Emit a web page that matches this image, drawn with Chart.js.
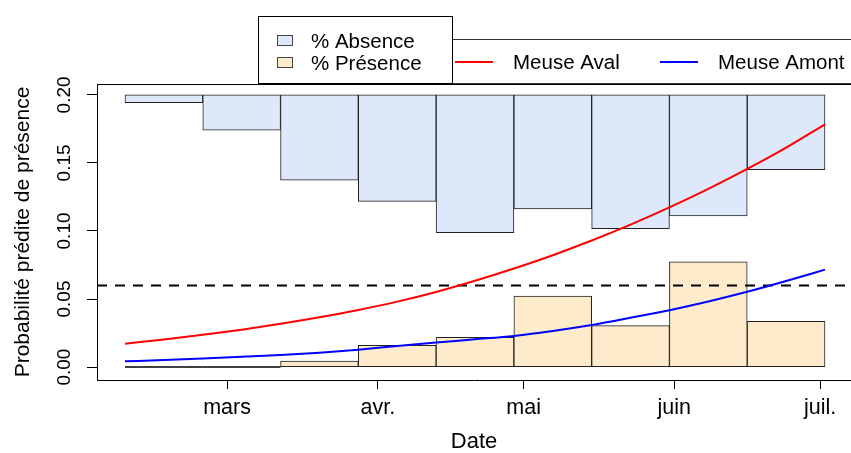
<!DOCTYPE html>
<html>
<head>
<meta charset="utf-8">
<script src="https://cdn.jsdelivr.net/npm/chart.js@4.4.1/dist/chart.umd.min.js"></script>
<style>
  html, body { margin: 0; padding: 0; background: #fff; }
  #wrap { width: 851px; height: 453px; }
</style>
</head>
<body>
<div id="wrap"><canvas id="chart" width="851" height="453"></canvas></div>
<script>
// jours depuis le 1er janvier
const binEdges = [38, 54, 70, 86, 102, 118, 134, 150, 166, 182];
const absenceTop = 0.2;
const absenceLow = [0.1943, 0.174, 0.1373, 0.1218, 0.0988, 0.1162, 0.1017, 0.111, 0.1451];
const presence = [0, 0, 0.0044, 0.016, 0.0218, 0.0522, 0.0304, 0.0774, 0.0336];

const curveDays = [38, 46, 54, 62, 70, 78, 86, 94, 102, 110, 118, 126, 134, 142, 150, 158, 166, 174, 182];
const meuseAval = [0.0172, 0.0203, 0.0237, 0.0275, 0.0318, 0.0366, 0.042, 0.0481, 0.0552, 0.0634, 0.0724, 0.0822, 0.093, 0.1047, 0.1173, 0.1309, 0.1456, 0.1613, 0.1784];
const meuseAmont = [0.0042, 0.0052, 0.0063, 0.0075, 0.0089, 0.0106, 0.0128, 0.0155, 0.018, 0.0204, 0.0229, 0.0265, 0.0309, 0.0362, 0.0418, 0.0482, 0.0553, 0.0632, 0.0716];

const seuil = 0.06;
const monthDays = [59, 90, 120, 151, 181];
const monthLabels = ['mars', 'avr.', 'mai', 'juin', 'juil.'];
const yTicks = [0, 0.05, 0.10, 0.15, 0.20];

const xMin = 32.24, xMax = 187.35;
const yMin = -0.0095, yMax = 0.208;

const centers = binEdges.slice(0, -1).map((e, i) => (e + binEdges[i + 1]) / 2);

Chart.defaults.font.family = "'Liberation Sans', Arial, sans-serif";
Chart.defaults.color = '#000';

// rectangles de hauteur nulle : R trace quand meme le contour
const zeroBars = {
  id: 'zeroBars',
  afterDatasetDraw(chart, args) {
    const ds = chart.data.datasets[args.index];
    if (ds.label !== '% Présence') return;
    const ctx = chart.ctx;
    ctx.save();
    ctx.strokeStyle = '#000';
    ctx.lineWidth = 1.5;
    args.meta.data.forEach((el, i) => {
      if (presence[i] !== 0) return;
      ctx.beginPath();
      ctx.moveTo(el.x - el.width / 2, el.y);
      ctx.lineTo(el.x + el.width / 2, el.y);
      ctx.stroke();
    });
    ctx.restore();
  }
};

const boxAndLegend = {
  id: 'boxAndLegend',
  afterDraw(chart) {
    const ctx = chart.ctx;
    const a = chart.chartArea;
    const ds = chart.data.datasets;
    ctx.save();
    ctx.strokeStyle = '#000';
    ctx.lineWidth = 1;
    ctx.beginPath();
    ctx.moveTo(a.left, a.top + 0.5);
    ctx.lineTo(a.right, a.top + 0.5);
    ctx.stroke();

    // legende des courbes
    ctx.fillStyle = '#fff';
    ctx.fillRect(452, 39, 410, 44);
    ctx.strokeStyle = '#333';
    ctx.strokeRect(452.5, 39.5, 410, 44);
    // legende des barres
    ctx.fillRect(258, 16, 194, 67);
    ctx.strokeStyle = '#000';
    ctx.strokeRect(258.5, 16.5, 194, 67);

    ctx.font = "20.5px 'Liberation Sans', Arial, sans-serif";
    ctx.textBaseline = 'middle';
    ctx.textAlign = 'left';

    const bars = ds.filter(d => d.type === 'bar');
    bars.forEach((d, i) => {
      const y = 41 + i * 22;
      ctx.fillStyle = d.backgroundColor;
      ctx.fillRect(277.5, y - 5.5, 15, 10);
      ctx.strokeStyle = '#444';
      ctx.strokeRect(277.5, y - 5.5, 15, 10);
      ctx.fillStyle = '#000';
      ctx.fillText(d.label, 311, y + 1);
    });

    const curves = ds.filter(d => d.type === 'line' && d.label.startsWith('Meuse'));
    const xs = [455, 660];
    curves.forEach((d, i) => {
      const x = xs[i];
      ctx.strokeStyle = d.borderColor;
      ctx.lineWidth = 2;
      ctx.beginPath();
      ctx.moveTo(x, 62);
      ctx.lineTo(x + 38, 62);
      ctx.stroke();
      ctx.fillStyle = '#000';
      ctx.fillText(d.label, x + 58, 63);
    });
    ctx.restore();
  }
};

new Chart(document.getElementById('chart'), {
  type: 'bar',
  data: {
    datasets: [
      {
        type: 'line',
        label: 'Meuse Aval',
        data: curveDays.map((d, i) => ({ x: d, y: meuseAval[i] })),
        borderColor: '#ff0000',
        borderWidth: 2,
        pointRadius: 0,
        cubicInterpolationMode: 'monotone',
        order: 1
      },
      {
        type: 'line',
        label: 'Meuse Amont',
        data: curveDays.map((d, i) => ({ x: d, y: meuseAmont[i] })),
        borderColor: '#0000ff',
        borderWidth: 2,
        pointRadius: 0,
        cubicInterpolationMode: 'monotone',
        order: 1
      },
      {
        type: 'line',
        label: 'seuil',
        data: [{ x: xMin, y: seuil }, { x: xMax, y: seuil }],
        borderColor: '#000',
        borderWidth: 2,
        borderDash: [10, 8],
        borderDashOffset: 18,
        pointRadius: 0,
        order: 1
      },
      {
        type: 'bar',
        label: '% Absence',
        data: centers.map((c, i) => ({ x: c, y: [absenceLow[i], absenceTop] })),
        backgroundColor: '#dee8fb',
        borderColor: '#222',
        borderWidth: 1,
        borderSkipped: false,
        grouped: false,
        barPercentage: 1,
        categoryPercentage: 1,
        order: 2
      },
      {
        type: 'bar',
        label: '% Présence',
        data: centers.map((c, i) => ({ x: c, y: presence[i] })),
        backgroundColor: '#fdebcb',
        borderColor: '#222',
        borderWidth: 1,
        borderSkipped: false,
        grouped: false,
        barPercentage: 1,
        categoryPercentage: 1,
        order: 2
      }
    ]
  },
  options: {
    responsive: false,
    maintainAspectRatio: false,
    animation: false,
    devicePixelRatio: 1,
    layout: { padding: { top: 84, left: 0, right: 0, bottom: 0 } },
    plugins: { legend: { display: false }, tooltip: { enabled: false } },
    scales: {
      x: {
        type: 'linear',
        min: xMin,
        max: xMax,
        offset: false,
        afterBuildTicks: s => { s.ticks = monthDays.map(v => ({ value: v })); },
        afterFit: s => { s.height = 73; },
        grid: { drawOnChartArea: false, offset: false, tickLength: 9, color: '#000' },
        border: { color: '#000' },
        ticks: {
          autoSkip: false,
          maxRotation: 0,
          padding: 6,
          font: { size: 21.5 },
          callback: v => monthLabels[monthDays.indexOf(v)]
        },
        title: {
          display: true,
          text: 'Date',
          font: { size: 22, lineHeight: 1 },
          padding: { top: 0, bottom: 0 }
        }
      },
      y: {
        min: yMin,
        max: yMax,
        afterBuildTicks: s => { s.ticks = yTicks.map(v => ({ value: v })); },
        afterFit: s => { s.width = 97; },
        grid: { drawOnChartArea: false, tickLength: 10, color: '#000' },
        border: { color: '#000' },
        ticks: {
          minRotation: 90,
          maxRotation: 90,
          crossAlign: 'center',
          padding: 4,
          font: { size: 19 },
          callback: v => v.toFixed(2)
        },
        title: {
          display: true,
          text: 'Probabilité prédite de présence',
          font: { size: 21, lineHeight: 1.2 },
          padding: { top: 11, bottom: 0 }
        }
      }
    }
  },
  plugins: [zeroBars, boxAndLegend]
});
</script>
</body>
</html>
